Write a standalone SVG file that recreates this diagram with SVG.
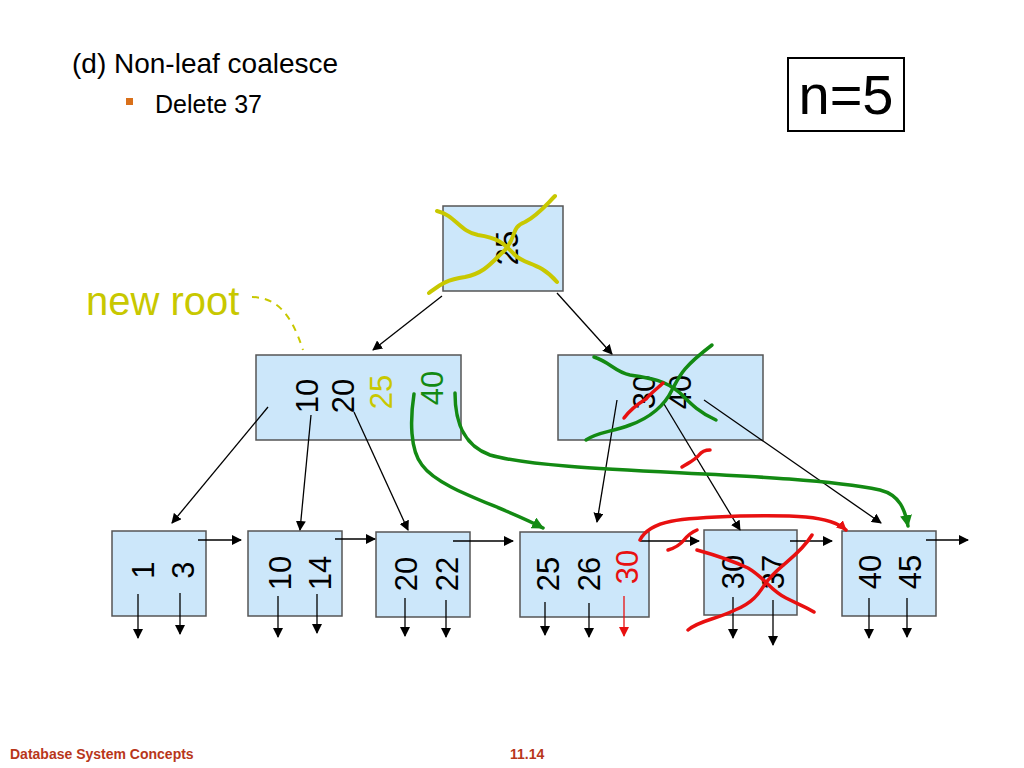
<svg xmlns="http://www.w3.org/2000/svg" width="1024" height="768" viewBox="0 0 1024 768">
<defs>
<marker id="ah" viewBox="0 0 10 10" refX="9" refY="5" markerWidth="10" markerHeight="10" markerUnits="userSpaceOnUse" orient="auto"><path d="M0,0 L10,5 L0,10 z" fill="#000"/></marker>
<marker id="ahr" viewBox="0 0 10 10" refX="9" refY="5" markerWidth="10" markerHeight="10" markerUnits="userSpaceOnUse" orient="auto"><path d="M0,0 L10,5 L0,10 z" fill="#e81010"/></marker>
<marker id="ahg" viewBox="0 0 10 10" refX="9" refY="5" markerWidth="12" markerHeight="12" markerUnits="userSpaceOnUse" orient="auto"><path d="M0,0 L10,5 L0,10 z" fill="#138a13"/></marker>
</defs>
<style>
.box{fill:#cce7fa;stroke:#555;stroke-width:1.5}
.k{font-family:"Liberation Sans",Arial,sans-serif;font-size:31px;fill:#000;text-anchor:middle;dominant-baseline:central}
.ln{stroke:#000;stroke-width:1.3;fill:none;marker-end:url(#ah)}
.y{stroke:#c8c800;stroke-width:4;fill:none;stroke-linecap:round}
.g{stroke:#138a13;stroke-width:3.5;fill:none;stroke-linecap:round}
.r{stroke:#e81010;stroke-width:3.5;fill:none;stroke-linecap:round}
</style>
<rect width="1024" height="768" fill="#fff"/>
<text x="72" y="73" font-family="Liberation Sans,Arial,sans-serif" font-size="28" fill="#000">(d) Non-leaf coalesce</text>
<rect x="126" y="98" width="7" height="7" fill="#d9701a"/>
<text x="155" y="113" font-family="Liberation Sans,Arial,sans-serif" font-size="25" fill="#000">Delete 37</text>
<g id="n5"><rect x="788" y="58" width="116" height="73" fill="#fff" stroke="#000" stroke-width="2"/>
<text x="846" y="114" font-family="Liberation Sans,Arial,sans-serif" font-size="56" text-anchor="middle" fill="#000">n=5</text></g>
<text x="86" y="315" font-family="Liberation Sans,Arial,sans-serif" font-size="40" fill="#c8c800">new root</text>
<path d="M252,297 C275,298 290,310 303,350" stroke="#c8c800" stroke-width="2" fill="none" stroke-dasharray="7,6"/>

<g id="root"><rect class="box" x="443" y="206" width="120" height="85"/>
<text class="k" transform="translate(507,248) rotate(-90)">25</text></g>
<g id="inl"><rect class="box" x="256" y="355" width="205" height="85"/>
<text class="k" transform="translate(307,396) rotate(-90)">10</text>
<text class="k" transform="translate(343,396) rotate(-90)">20</text>
<text class="k" transform="translate(381,392) rotate(-90)" style="fill:#c8c800">25</text>
<text class="k" transform="translate(432,388) rotate(-90)" style="fill:#138a13">40</text></g>
<g id="inr"><rect class="box" x="558" y="355" width="205" height="85"/>
<text class="k" transform="translate(644,392) rotate(-90)">30</text>
<text class="k" transform="translate(680,392) rotate(-90)">40</text></g>
<g id="l1"><rect class="box" x="112" y="531" width="94" height="85"/>
<text class="k" transform="translate(143,570) rotate(-90)">1</text>
<text class="k" transform="translate(183,570) rotate(-90)">3</text></g>
<g id="l2"><rect class="box" x="248" y="531" width="94" height="85"/>
<text class="k" transform="translate(280,573) rotate(-90)">10</text>
<text class="k" transform="translate(320,573) rotate(-90)">14</text></g>
<g id="l3"><rect class="box" x="376" y="532" width="94" height="85"/>
<text class="k" transform="translate(406,574) rotate(-90)">20</text>
<text class="k" transform="translate(447,574) rotate(-90)">22</text></g>
<g id="l4"><rect class="box" x="520" y="532" width="129" height="85"/>
<text class="k" transform="translate(548,574) rotate(-90)">25</text>
<text class="k" transform="translate(589,574) rotate(-90)">26</text>
<text class="k" transform="translate(627,567) rotate(-90)" style="fill:#e81010">30</text></g>
<g id="l5"><rect class="box" x="704" y="530" width="93" height="85"/>
<text class="k" transform="translate(733,572) rotate(-90)">30</text>
<text class="k" transform="translate(773,572) rotate(-90)">37</text></g>
<g id="l6"><rect class="box" x="842" y="531" width="94" height="85"/>
<text class="k" transform="translate(870,572) rotate(-90)">40</text>
<text class="k" transform="translate(910,572) rotate(-90)">45</text></g>

<g id="connectors">
<line class="ln" x1="442" y1="296" x2="373" y2="350"/>
<line class="ln" x1="557" y1="293" x2="612" y2="354"/>
<line class="ln" x1="268" y1="407" x2="172" y2="523"/>
<line class="ln" x1="311" y1="415" x2="300" y2="530"/>
<line class="ln" x1="354" y1="412" x2="408" y2="530"/>
<line class="ln" x1="617" y1="400" x2="597" y2="522"/>
<line class="ln" x1="664" y1="404" x2="740" y2="530"/>
<line class="ln" x1="704" y1="400" x2="881" y2="523"/>
<line class="ln" x1="198" y1="540" x2="241" y2="540"/>
<line class="ln" x1="335" y1="539" x2="375" y2="539"/>
<line class="ln" x1="453" y1="541" x2="513" y2="541"/>
<line class="ln" x1="640" y1="541" x2="699" y2="541"/>
<line class="ln" x1="790" y1="541" x2="832" y2="541"/>
<line class="ln" x1="926" y1="540" x2="968" y2="540"/>
<line class="ln" x1="138" y1="594" x2="138" y2="638"/>
<line class="ln" x1="180" y1="593" x2="180" y2="634"/>
<line class="ln" x1="278" y1="596" x2="278" y2="637"/>
<line class="ln" x1="317" y1="594" x2="317" y2="633"/>
<line class="ln" x1="405" y1="598" x2="405" y2="636"/>
<line class="ln" x1="446" y1="600" x2="446" y2="637"/>
<line class="ln" x1="545" y1="602" x2="545" y2="635"/>
<line class="ln" x1="589" y1="603" x2="589" y2="637"/>
<line x1="624" y1="596" x2="624" y2="636" stroke="#e81010" stroke-width="1.3" marker-end="url(#ahr)"/>
<line class="ln" x1="733" y1="597" x2="733" y2="638"/>
<line class="ln" x1="773" y1="600" x2="773" y2="645"/>
<line class="ln" x1="869" y1="598" x2="869" y2="638"/>
<line class="ln" x1="907" y1="598" x2="907" y2="637"/>
<path class="g" d="M414,394 C410,420 410,450 422,465 C440,490 500,505 543,528" marker-end="url(#ahg)"/>
<path class="g" d="M455,393 C455,420 462,445 490,455 C560,475 780,470 880,490 C900,495 905,510 908,526" marker-end="url(#ahg)"/>
<path class="r" d="M640,540 C650,520 680,518 740,516 C790,515 830,515 846,530" marker-end="url(#ahr)"/>
</g>

<g id="marks">
<path class="y" d="M437,211 C455,215 460,232 478,235 C500,238 505,245 515,255 C525,265 540,262 557,282"/>
<path class="y" d="M429,293 C440,285 445,280 465,277 C485,273 492,262 505,250 C518,235 510,228 525,222 C538,215 545,206 555,196"/>
<path class="g" d="M594,357 C610,362 615,372 630,375 C650,378 665,380 680,393 C692,405 700,413 716,420"/>
<path class="g" d="M586,440 C597,432 612,432 630,425 C650,418 665,405 672,390 C680,375 682,368 712,345"/>
<path class="r" d="M624,418 C630,410 636,405 646,399 C652,392 658,388 663,383"/>
<path class="r" d="M682,467 C690,462 695,460 699,455 C702,451 706,450 710,450"/>
<path class="r" d="M668,550 C675,548 680,545 684,540 C688,535 692,532 697,530"/>
<path class="r" d="M697,550 C715,555 735,562 748,568 C765,578 770,590 786,598 C800,605 808,608 814,612"/>
<path class="r" d="M688,630 C700,620 715,620 735,610 C760,600 762,585 770,578 C780,565 800,555 812,535"/>
</g>

<text x="10" y="759" font-family="Liberation Sans,Arial,sans-serif" font-size="14" font-weight="bold" fill="#b8361a">Database System Concepts</text>
<text x="510" y="759" font-family="Liberation Sans,Arial,sans-serif" font-size="14" font-weight="bold" fill="#b8361a">11.14</text>
</svg>
